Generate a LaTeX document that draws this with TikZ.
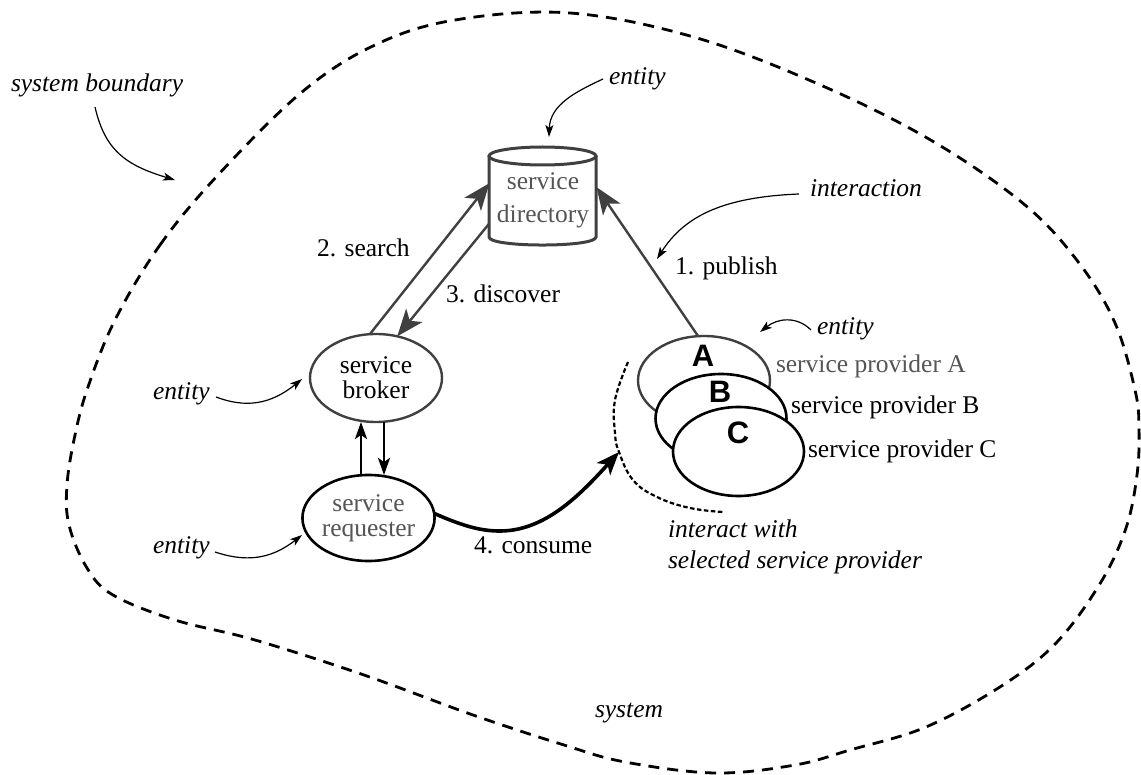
\documentclass[tikz,border=0pt]{standalone}
\usepackage{fontspec}
\setmainfont{Liberation Serif}
\newfontfamily\lsans{Liberation Sans}
\usetikzlibrary{shapes.geometric,arrows.meta}
\definecolor{dgray}{HTML}{404040}
\definecolor{tgray}{HTML}{555555}
\tikzset{
  every node/.style={inner sep=0pt,outer sep=0pt,font=\fontsize{25.5}{25}\selectfont},
  lab/.style={anchor=base west},
  note/.style={anchor=base west,font=\fontsize{25.5}{25}\selectfont\itshape},
  ell/.style={ellipse,fill=white,align=center,minimum width=#1},
  grayell/.style={draw=dgray,line width=2.4pt},
  blackell/.style={draw=black,line width=2.6pt},
  letter/.style={anchor=base,font=\fontsize{31}{31}\selectfont\lsans\bfseries},
  bigarrow/.style={draw=dgray,line width=2.4pt,-{Stealth[length=27pt,width=21pt,inset=7pt]}},
  medarrow/.style={draw=black,line width=2.6pt,-{Stealth[length=17pt,width=12pt,inset=4pt]}},
  thinarrow/.style={draw=black,line width=1.2pt,-{Stealth[length=12pt,width=8pt,inset=3pt]}},
  consumearrow/.style={draw=black,line width=3.6pt,-{Stealth[length=23pt,width=18pt,inset=6pt]}},
  boundary/.style={draw=black,line width=2.8pt,dash pattern=on 11pt off 8pt},
  select/.style={draw=black,line width=2.2pt,dash pattern=on 4.5pt off 2.5pt},
}
\begin{document}
\begin{tikzpicture}[x=1pt,y=-1pt]
\useasboundingbox (0,0) rectangle (1141,775);
% system boundary
\draw[boundary] plot[smooth cycle,tension=0.6] coordinates {
 (115,320) (160,245) (218,175) (302,92) (375,45) (455,20) (570,13)
 (697,38) (825,87) (934,142) (1025,205) (1079,263) (1115,323) (1135,390)
 (1139,428) (1137,475) (1126,528) (1101,582) (1057,642) (1003,685) (926,727)
 (850,750) (795,765) (715,773) (625,762) (564,745) (473,715) (364,675)
 (255,640) (175,620) (113,595) (87,568) (69,525) (67,485) (75,435) (88,387)};
% directory
\node[align=center,text=tgray,minimum width=107pt,minimum height=89pt] (dir) at (543,200.5) {service\\[8pt]directory};
\draw[draw=dgray,line width=3pt] (489,156) -- (489,237) .. controls (489,247.7) and (596,247.7) .. (596,237) -- (596,156);
\draw[draw=dgray,line width=3pt] (542.5,156) ellipse [x radius=53.5,y radius=9];
% broker and requester
\node[ell=132pt,minimum height=88pt,grayell] (broker) at (376,378) {service\\broker};
\node[ell=131pt,minimum height=86pt,blackell,text=tgray] (req) at (368.5,518) {service\\requester};
% providers
\node[ell=132pt,minimum height=89pt,grayell] (provA) at (704,380.5) {};
\node[letter] (letA) at (703,367) {A};
\node[ell=131pt,minimum height=89pt,blackell] (provB) at (721,418.5) {};
\node[letter] (letB) at (720,403) {B};
\node[ell=131pt,minimum height=89pt,blackell] (provC) at (738.5,451.5) {};
\node[letter] (letC) at (738,444) {C};
% labels
\node[lab,text=tgray] (labA) at (776,373) {service provider A};
\node[lab] (labB) at (791,414) {service provider B};
\node[lab] (labC) at (808,457) {service provider C};
\node[lab] (search) at (317,257) {2. search};
\node[lab] (discover) at (446,303) {3. discover};
\node[lab] (publish) at (675,275) {1. publish};
\node[lab] (consume) at (474,553) {4. consume};
\node[note] (sysb) at (11,92) {system boundary};
\node[note] (enttop) at (609,85) {entity};
\node[note] (interaction) at (810,197) {interaction};
\node[note] (entprov) at (817,335) {entity};
\node[note] (entbrok) at (153,400) {entity};
\node[note] (entreq) at (153,553) {entity};
\node[note] (interact) at (668,537) {interact with};
\node[note] (selected) at (668,568) {selected service provider};
\node[note] (sys) at (595,717) {system};
% free ends
\coordinate (upx) at (361,450);
\coordinate (downx) at (384,450);
\coordinate (consumeEnd) at (619,452);
\coordinate (sysbA) at (95,107);
\coordinate (sysbB) at (175,180);
\coordinate (enttopA) at (603,79);
\coordinate (enttopB) at (549,137);
\coordinate (interA) at (799,194);
\coordinate (interB) at (657,259);
\coordinate (entprovA) at (811,330);
\coordinate (entprovB) at (760,332);
\coordinate (entbrokA) at (216,397);
\coordinate (entbrokB) at (302,379);
\coordinate (entreqA) at (215,552);
\coordinate (entreqB) at (302,535);
% interactions
\draw[bigarrow] (broker.98) -- (dir.162);
\draw[bigarrow] (dir.203) -- (broker.63);
\draw[bigarrow] (provA.north) ++(-6,0) -- (dir.14);
\draw[medarrow] (upx |- req.north) -- (upx |- broker.south);
\draw[medarrow] (downx |- broker.south) -- (downx |- req.north);
\draw[consumearrow] (req.4) .. controls (465,527) and (482,531) .. (500,531) .. controls (545,531) and (580,495) .. (consumeEnd);
% annotation curves
\draw[thinarrow] (sysbA) .. controls (105,150) and (125,165) .. (sysbB);
\draw[thinarrow] (enttopA) .. controls (575,92) and (550,105) .. (enttopB);
\draw[thinarrow] (interA) .. controls (725,197) and (685,215) .. (interB);
\draw[thinarrow] (entprovA) .. controls (797,316) and (778,318) .. (entprovB);
\draw[thinarrow] (entbrokA) .. controls (245,408) and (270,405) .. (entbrokB);
\draw[thinarrow] (entreqA) .. controls (245,562) and (270,560) .. (entreqB);
% selection arc
\draw[select] plot[smooth,tension=0.7] coordinates {(628,362) (615,400) (615,433) (619,452) (633,480) (657,497) (690,508) (723,512)};
\end{tikzpicture}
\end{document}
